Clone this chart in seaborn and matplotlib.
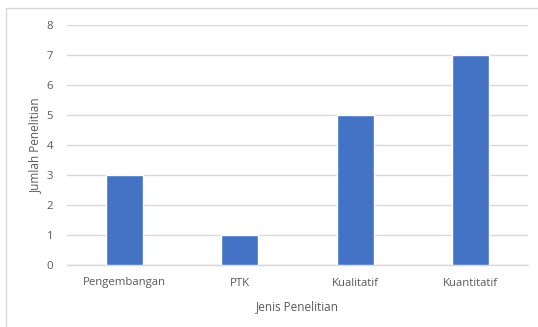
import matplotlib
matplotlib.use("Agg")
import matplotlib.pyplot as plt
import seaborn as sns
import pandas as pd
from matplotlib.patches import Rectangle

categories = ["Pengembangan", "PTK", "Kualitatif", "Kuantitatif"]
counts = [3, 1, 5, 7]
yticks = [0, 1, 2, 3, 4, 5, 6, 7, 8]

df = pd.DataFrame({"Jenis Penelitian": categories, "Jumlah Penelitian": counts})

sns.set_style("white")
plt.rcParams["font.family"] = ["Open Sans", "DejaVu Sans"]

W, H = 538, 327
fig = plt.figure(figsize=(W / 100, H / 100), dpi=100)
ax = fig.add_axes([67 / W, 1 - 265 / H, (528 - 67) / W, (265 - 25) / H])

sns.barplot(data=df, x="Jenis Penelitian", y="Jumlah Penelitian", color="#4472C4",
            width=0.32, saturation=1, ax=ax, zorder=3)

ax.set_ylim(0, 8)
ax.set_yticks(yticks)
ax.set_xlim(-0.5, len(categories) - 0.5)
ax.yaxis.grid(True, color="#d9d9d9", linewidth=1, zorder=0)
for side in ["top", "right", "left"]:
    ax.spines[side].set_visible(False)
ax.spines["bottom"].set_color("#d9d9d9")
ax.spines["bottom"].set_linewidth(1)
ax.tick_params(axis="both", length=0, labelsize=8.2, colors="#595959", pad=10)
ax.tick_params(axis="x", pad=9)

ax.set_xlabel("Jenis Penelitian", fontsize=8.5, color="#595959", labelpad=8)
ax.set_ylabel("Jumlah Penelitian", fontsize=8.5, color="#595959", labelpad=3)

# chart-area frame
fig.patches.append(Rectangle((6 / W, -0.1), 1.2, 1 - 8 / H + 0.1, transform=fig.transFigure,
                             fill=False, edgecolor="#d9d9d9", linewidth=1))

fig.savefig("out.png", dpi=100)
